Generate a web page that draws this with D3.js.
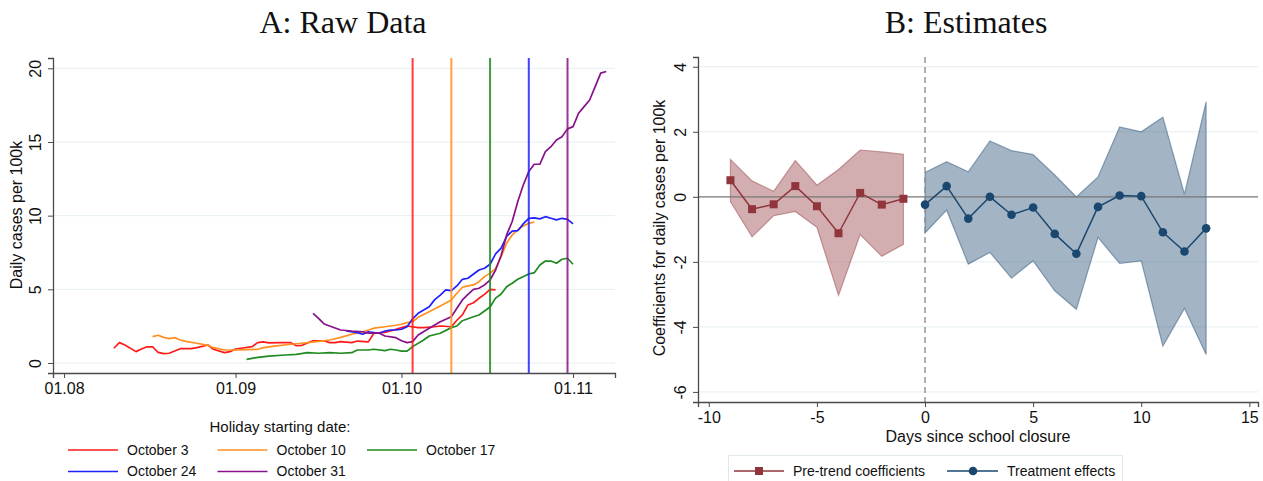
<!DOCTYPE html>
<html>
<head>
<meta charset="utf-8">
<script src="https://cdn.jsdelivr.net/npm/d3@7"></script>
<style>
  body { margin: 0; background: #fff; }
  text { font-family: "Liberation Sans", Arial, sans-serif; fill: #111; }
  .title { font-family: "Liberation Serif", "Times New Roman", serif; font-size: 32px; }
</style>
</head>
<body>
<div id="chart"></div>
<script>
// ---- Panel A data: daily cases per 100k, ["MM-DD", value] ----
var holiday_names = ["October 3", "October 10", "October 17", "October 24", "October 31"];
var holiday_dates = ["10-03", "10-10", "10-17", "10-24", "10-31"];
var holiday_colors = ["#ff1a1a", "#ff9020", "#1f8a1f", "#2020ff", "#88108a"];

var oct3 = [["08-10",1.0],["08-11",1.38],["08-12",1.22],["08-14",0.77],["08-15",0.95],["08-16",1.1],["08-17",1.1],
  ["08-18",0.72],["08-19",0.63],["08-20",0.66],["08-21",0.81],["08-22",0.97],["08-24",0.97],["08-25",1.04],
  ["08-27",1.22],["08-28",0.93],["08-30",0.70],["08-31",0.77],["09-01",0.95],["09-02",1.0],["09-04",1.11],
  ["09-05",1.38],["09-06",1.43],["09-07",1.36],["09-09",1.38],["09-11",1.38],["09-12",1.17],["09-13",1.2],
  ["09-15",1.51],["09-17",1.51],["09-18",1.38],["09-19",1.38],["09-20",1.45],["09-22",1.38],["09-23",1.49],
  ["09-25",1.43],["09-26",2.02],["09-28",2.08],["09-29",2.17],["10-01",2.4],["10-02",2.51],["10-04",2.4],
  ["10-05",2.4],["10-07",2.46],["10-08",2.51],["10-10",2.46],["10-11",2.9],["10-12",3.26],["10-13",3.94],
  ["10-14",4.09],["10-15",4.39],["10-16",4.66],["10-17",5.0],["10-18",4.96]];

var oct10 = [["08-17",1.79],["08-18",1.88],["08-19",1.74],["08-20",1.65],["08-21",1.72],["08-22",1.56],["08-23",1.47],
  ["08-25",1.34],["08-27",1.2],["08-28",1.04],["08-30",0.88],["09-01",0.88],["09-03",0.9],["09-05",0.93],
  ["09-06",1.04],["09-08",1.15],["09-11",1.27],["09-13",1.34],["09-16",1.47],["09-18",1.56],["09-20",1.74],
  ["09-22",1.95],["09-24",2.12],["09-26",2.36],["09-28",2.46],["09-30",2.56],["10-01",2.63],["10-02",2.74],
  ["10-03",2.80],["10-04",3.1],["10-06",3.48],["10-08",3.87],["10-10",4.28],["10-11",4.73],["10-12",5.14],
  ["10-13",5.23],["10-14",5.3],["10-15",5.52],["10-16",5.86],["10-17",6.1],["10-18",6.4],["10-19",7.22],
  ["10-20",8.13],["10-21",8.69],["10-22",9.03],["10-23",9.3],["10-24",9.48],["10-25",9.57]];

var oct17 = [["09-03",0.25],["09-05",0.38],["09-07",0.47],["09-10",0.54],["09-12",0.59],["09-14",0.7],["09-16",0.66],
  ["09-18",0.7],["09-20",0.66],["09-22",0.7],["09-23",0.88],["09-25",0.88],["09-26",0.93],["09-28",0.84],
  ["09-29",0.93],["09-30",0.88],["10-01",0.81],["10-02",0.81],["10-03",1.11],["10-05",1.56],["10-06",1.83],
  ["10-08",2.02],["10-10",2.4],["10-11",2.51],["10-12",2.87],["10-14",3.14],["10-15",3.26],["10-17",3.8],
  ["10-18",4.4],["10-19",4.68],["10-20",5.18],["10-21",5.41],["10-22",5.68],["10-24",6.04],["10-25",6.13],
  ["10-26",6.65],["10-27",6.92],["10-28",6.92],["10-29",6.77],["10-30",7.04],["10-31",7.11],["11-01",6.7]];

var oct24 = [["09-21",2.17],["09-23",2.06],["09-24",1.95],["09-25",2.12],["09-27",2.02],["09-28",2.17],["09-29",2.24],
  ["09-30",2.24],["10-01",2.29],["10-02",2.46],["10-03",3.0],["10-04",3.37],["10-06",3.82],["10-07",4.3],
  ["10-08",4.6],["10-09",4.96],["10-10",4.91],["10-11",5.23],["10-12",5.68],["10-13",5.75],["10-15",6.31],
  ["10-16",6.43],["10-17",6.7],["10-18",7.4],["10-19",7.8],["10-20",8.6],["10-21",8.95],["10-22",8.98],
  ["10-23",9.44],["10-24",9.82],["10-25",9.85],["10-26",9.78],["10-27",9.93],["10-28",9.82],["10-29",9.71],
  ["10-30",9.82],["10-31",9.75],["11-01",9.44]];

var oct31 = [["09-15",3.37],["09-16",3.03],["09-17",2.65],["09-18",2.51],["09-20",2.24],["09-22",2.17],["09-24",2.12],
  ["09-25",2.02],["09-27",2.02],["09-28",1.83],["09-30",1.72],["10-01",1.51],["10-02",1.38],["10-03",1.45],
  ["10-04",1.9],["10-06",2.36],["10-07",2.58],["10-08",2.8],["10-10",3.14],["10-11",3.71],["10-12",4.28],
  ["10-13",4.66],["10-14",5.0],["10-15",5.07],["10-16",5.3],["10-17",5.63],["10-18",6.31],["10-19",7.3],
  ["10-20",8.69],["10-21",9.6],["10-22",10.95],["10-23",12.08],["10-24",12.99],["10-25",13.49],["10-26",13.49],
  ["10-27",14.35],["10-28",14.68],["10-29",15.14],["10-30",15.36],["10-31",15.89],["11-01",16.04],["11-02",16.95],
  ["11-03",17.4],["11-04",17.85],["11-05",18.76],["11-06",19.67],["11-07",19.78]];

var raw_series = [oct3, oct10, oct17, oct24, oct31];
var raw_xticks = ["08-01", "09-01", "10-01", "11-01"];
var raw_yticks = [0, 5, 10, 15, 20];

// ---- Panel B data: event study coefficients ----
var days_pre = [-9, -8, -7, -6, -5, -4, -3, -2, -1];
var coef_pre = [0.51, -0.38, -0.23, 0.33, -0.29, -1.12, 0.12, -0.24, -0.06];
var hi_pre = [1.15, 0.49, 0.17, 1.12, 0.36, 0.84, 1.44, 1.38, 1.31];
var lo_pre = [-0.15, -1.23, -0.58, -0.45, -0.94, -3.03, -1.16, -1.83, -1.46];

var days_post = [0, 1, 2, 3, 4, 5, 6, 7, 8, 9, 10, 11, 12, 13];
var coef_post = [-0.24, 0.33, -0.67, 0.0, -0.55, -0.33, -1.14, -1.75, -0.31, 0.04, 0.02, -1.09, -1.68, -0.97];
var hi_post = [0.75, 1.08, 0.77, 1.72, 1.42, 1.30, 0.67, 0.0, 0.61, 2.15, 2.0, 2.45, 0.08, 2.92];
var lo_post = [-1.11, -0.41, -2.07, -1.71, -2.50, -1.97, -2.89, -3.46, -1.25, -2.05, -1.97, -4.59, -3.43, -4.85];

var est_xticks = [-10, -5, 0, 5, 10, 15];
var est_yticks = [-6, -4, -2, 0, 2, 4];

var cranberry = "#90353b", navy = "#1a476f";
var grid_color = "#e6eef0", axis_color = "#4a4a4a";

var parseDate = d3.utcParse("%Y-%m-%d");
function md(s) { return parseDate("2020-" + s); }

var svg = d3.select("#chart").append("svg")
  .attr("width", 1263)
  .attr("height", 481);

create_rawChart();
create_estimatesChart();

function rotate_y_labels(g) {
  g.selectAll(".tick text")
    .attr("transform", "rotate(-90)")
    .attr("x", 0)
    .attr("y", -18)
    .attr("dy", "0.35em")
    .attr("text-anchor", "middle");
}

function style_axis(g) {
  g.select(".domain").attr("stroke", axis_color).attr("stroke-width", 1.3);
  g.selectAll(".tick line").attr("stroke", axis_color);
  g.selectAll(".tick text").style("font-size", "16px").attr("fill", "#111");
}

function create_rawChart() {
  var left = 53, right = 615, top = 58, bottom = 373;

  var x = d3.scaleUtc()
    .domain([md("07-30"), new Date(Date.UTC(2020, 10, 8, 14))])
    .range([left, right]);
  var y = d3.scaleLinear()
    .domain([-0.68, 20.7])
    .range([bottom, top]);

  svg.append("text").attr("class", "title")
    .attr("x", 343).attr("y", 33)
    .attr("text-anchor", "middle")
    .text("A: Raw Data");

  // gridlines
  svg.append("g").selectAll("line")
    .data(raw_yticks)
    .join("line")
      .attr("x1", left).attr("x2", right)
      .attr("y1", d => y(d)).attr("y2", d => y(d))
      .attr("stroke", grid_color);

  // series lines
  var line = d3.line()
    .x(d => x(md(d[0])))
    .y(d => y(d[1]));

  svg.append("g")
    .attr("fill", "none")
    .attr("stroke-width", 1.7)
    .attr("stroke-linejoin", "round")
    .selectAll("path")
    .data(raw_series)
    .join("path")
      .attr("stroke", (d, i) => holiday_colors[i])
      .attr("d", line);

  // holiday start lines
  svg.append("g").selectAll("line")
    .data(holiday_dates)
    .join("line")
      .attr("x1", d => x(md(d))).attr("x2", d => x(md(d)))
      .attr("y1", top).attr("y2", bottom)
      .attr("stroke", (d, i) => holiday_colors[i])
      .attr("stroke-opacity", 0.85)
      .attr("stroke-width", 2);

  var gx = svg.append("g")
    .attr("transform", "translate(0," + bottom + ")")
    .call(d3.axisBottom(x)
      .tickValues(raw_xticks.map(md))
      .tickFormat(d3.utcFormat("%d.%m"))
      .tickSizeOuter(0)
      .tickSize(5)
      .tickPadding(5));
  style_axis(gx);

  var gy = svg.append("g")
    .attr("transform", "translate(" + left + ",0)")
    .call(d3.axisLeft(y).tickValues(raw_yticks).tickSizeOuter(0).tickSize(5));
  style_axis(gy);
  rotate_y_labels(gy);

  svg.append("text")
    .attr("transform", "translate(22,215) rotate(-90)")
    .attr("text-anchor", "middle")
    .style("font-size", "16px")
    .text("Daily cases per 100k");

  // legend
  svg.append("text")
    .attr("x", 280).attr("y", 432)
    .attr("text-anchor", "middle")
    .style("font-size", "15px")
    .text("Holiday starting date:");

  var item = svg.append("g").selectAll("g")
    .data(holiday_names)
    .join("g")
      .attr("transform", (d, i) => "translate(" + (68 + (i % 3) * 149.5) + "," + (450 + Math.floor(i / 3) * 21.5) + ")");
  item.append("line")
    .attr("x1", 0).attr("x2", 50)
    .attr("stroke", (d, i) => holiday_colors[i])
    .attr("stroke-width", 1.6);
  item.append("text")
    .attr("x", 59).attr("dy", "0.35em")
    .style("font-size", "14px")
    .text(d => d);
}

function create_estimatesChart() {
  var left = 698, right = 1258, top = 57, bottom = 402;

  var x = d3.scaleLinear()
    .domain([-10.5, 15.4])
    .range([left, right]);
  var y = d3.scaleLinear()
    .domain([-6.31, 4.3])
    .range([bottom, top]);

  svg.append("text").attr("class", "title")
    .attr("x", 966).attr("y", 33)
    .attr("text-anchor", "middle")
    .text("B: Estimates");

  svg.append("g").selectAll("line")
    .data(est_yticks.filter(d => d != 0))
    .join("line")
      .attr("x1", left).attr("x2", right)
      .attr("y1", d => y(d)).attr("y2", d => y(d))
      .attr("stroke", grid_color);

  var pre = days_pre.map((d, i) => ({day: d, b: coef_pre[i], hi: hi_pre[i], lo: lo_pre[i]}));
  var post = days_post.map((d, i) => ({day: d, b: coef_post[i], hi: hi_post[i], lo: lo_post[i]}));

  var area = d3.area()
    .x(d => x(d.day))
    .y0(d => y(d.lo))
    .y1(d => y(d.hi));

  var groups = [[pre, cranberry], [post, navy]];
  groups.forEach(function(g) {
    svg.append("path")
      .datum(g[0])
      .attr("fill", g[1])
      .attr("fill-opacity", 0.4)
      .attr("stroke", g[1])
      .attr("stroke-opacity", 0.45)
      .attr("stroke-width", 1.2)
      .attr("d", area);
  });

  // zero line and closure date
  svg.append("line")
    .attr("x1", left).attr("x2", right)
    .attr("y1", y(0)).attr("y2", y(0))
    .attr("stroke", "#777").attr("stroke-width", 1.3);
  svg.append("line")
    .attr("x1", x(0)).attr("x2", x(0))
    .attr("y1", top).attr("y2", bottom)
    .attr("stroke", "#888").attr("stroke-width", 1.3)
    .attr("stroke-dasharray", "6,4");

  var line = d3.line().x(d => x(d.day)).y(d => y(d.b));

  svg.append("path").datum(pre)
    .attr("fill", "none").attr("stroke", cranberry).attr("stroke-width", 1.5)
    .attr("d", line);
  svg.append("g").selectAll("rect")
    .data(pre)
    .join("rect")
      .attr("x", d => x(d.day) - 4).attr("y", d => y(d.b) - 4)
      .attr("width", 8).attr("height", 8)
      .attr("fill", cranberry);

  svg.append("path").datum(post)
    .attr("fill", "none").attr("stroke", navy).attr("stroke-width", 1.5)
    .attr("d", line);
  svg.append("g").selectAll("circle")
    .data(post)
    .join("circle")
      .attr("cx", d => x(d.day)).attr("cy", d => y(d.b))
      .attr("r", 4.3)
      .attr("fill", navy);

  var gx = svg.append("g")
    .attr("transform", "translate(0," + bottom + ")")
    .call(d3.axisBottom(x).tickValues(est_xticks).tickFormat(d => String(d))
      .tickSizeOuter(0).tickSize(5).tickPadding(5));
  style_axis(gx);

  var gy = svg.append("g")
    .attr("transform", "translate(" + left + ",0)")
    .call(d3.axisLeft(y).tickValues(est_yticks).tickFormat(d => String(d))
      .tickSizeOuter(0).tickSize(5));
  style_axis(gy);
  rotate_y_labels(gy);

  svg.append("text")
    .attr("transform", "translate(665,228) rotate(-90)")
    .attr("text-anchor", "middle")
    .style("font-size", "16px")
    .text("Coefficients for daily cases per 100k");

  svg.append("text")
    .attr("x", 978).attr("y", 442)
    .attr("text-anchor", "middle")
    .style("font-size", "16px")
    .text("Days since school closure");

  // legend box
  svg.append("rect")
    .attr("x", 728.5).attr("y", 455.5)
    .attr("width", 394).attr("height", 40)
    .attr("fill", "none").attr("stroke", "#e2eaec");

  var lg = svg.append("g").attr("transform", "translate(0,471)");
  lg.append("line").attr("x1", 734).attr("x2", 784)
    .attr("stroke", cranberry).attr("stroke-width", 1.5);
  lg.append("rect").attr("x", 755).attr("y", -4).attr("width", 8).attr("height", 8)
    .attr("fill", cranberry);
  lg.append("text").attr("x", 793).attr("dy", "0.35em")
    .style("font-size", "14px").text("Pre-trend coefficients");

  lg.append("line").attr("x1", 947).attr("x2", 998)
    .attr("stroke", navy).attr("stroke-width", 1.5);
  lg.append("circle").attr("cx", 973).attr("cy", 0).attr("r", 4.3)
    .attr("fill", navy);
  lg.append("text").attr("x", 1007).attr("dy", "0.35em")
    .style("font-size", "14px").text("Treatment effects");
}
</script>
</body>
</html>
